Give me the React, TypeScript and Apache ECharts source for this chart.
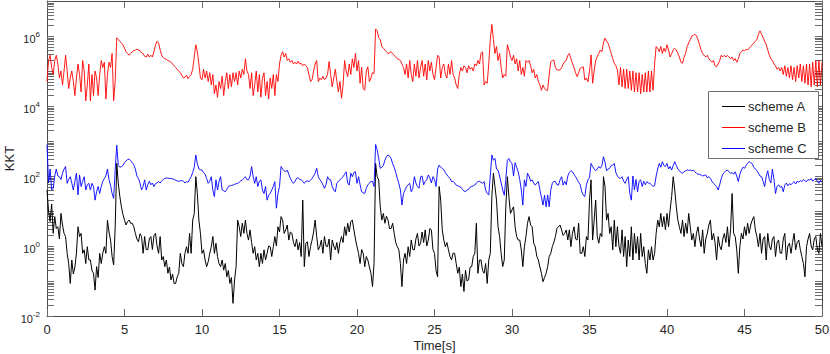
import React, { useEffect, useRef } from 'react';
import * as echarts from 'echarts';

// ---- data (log10 of KKT, sampled every 0.1 s from t = 0 to 50 s) ----
const TIME_STEP = 0.1;
const seriesNames = ['scheme A', 'scheme B', 'scheme C'];
const seriesColors = ['#000000', '#ff0000', '#0000ff'];
const seriesWidths = [1.0, 0.9, 0.9];
const xTickInterval = 5;
const yMin = 1e-2;
const yMax = 1e7;
const minorMultipliers = [2, 3, 4, 5, 6, 7, 8, 9];
const decadeExponents = [-2, -1, 0, 1, 2, 3, 4, 5, 6];

const schemeALog10 = [
  1.6, 1.0, 0.7, 1.2, 0.36, 0.84, 0.5, 0.55, 0.2, 0.93,
  0.6, 0.36, 0.27, -0.21, -0.5, -1.07, -0.4, -0.8, -0.6, -0.2,
  0.55, 0.27, 0.36, -0.21, -0.11, -0.5, -0.02, -0.4, -0.4, -0.7,
  -0.78, -1.26, -0.59, -0.9, -0.21, -0.5, -0.2, -0.02, -0.21, 0.74,
  0.4, 0.17, -0.3, -0.54, 0.55, 2.36, 1.79, 1.41, 1.12, 0.9,
  0.74, 0.6, 0.7, 0.74, 0.65, 0.65, 0.55, 0.36, 0.2, 0.12,
  0.35, 0.27, -0.21, 0.27, -0.1, -0.11, 0.2, 0.27, -0.1, 0.3,
  0.36, 0.0, -0.21, 0.27, -0.4, -0.3, -0.59, -0.4, -0.78, -0.6,
  -0.97, -0.8, -1.07, -1.07, -0.88, -0.78, -0.21, -0.5, -0.59, -0.21,
  -0.02, -0.21, 0.36, -0.21, 0.74, 0.93, 1.98, 1.5, 0.74, 0.36,
  -0.21, -0.11, -0.4, -0.59, -0.45, -0.21, -0.02, 0.27, -0.21, 0.08,
  -0.3, -0.5, -0.59, -0.4, -0.69, -0.5, -0.88, -0.7, -1.07, -0.9,
  -1.64, -0.97, -0.59, 0.74, 0.55, 0.27, 0.65, 0.36, 0.74, 0.36,
  0.17, 0.46, 0.1, -0.21, -0.02, -0.4, -0.21, -0.59, -0.21, -0.5,
  -0.11, -0.4, -0.21, 0.0, -0.02, -0.3, -0.02, 0.27, 0.0, 0.55,
  0.4, 0.84, 0.74, 0.36, 0.46, 0.6, 0.17, 0.4, 0.36, 0.1,
  -0.02, 0.2, -0.11, 0.1, -0.3, 1.31, -0.59, 0.08, 0.12, -0.3,
  -0.02, 0.17, 0.4, 0.74, 0.27, -0.11, -0.02, 0.17, -0.21, 0.27,
  0.0, -0.02, 0.2, -0.4, 0.17, 0.0, -0.11, 0.1, -0.21, 0.1,
  0.27, 0.1, 0.55, 0.3, 0.65, 0.4, 0.7, 0.74, 0.46, 0.2,
  -0.02, -0.21, -0.5, -0.1, -0.21, -0.59, -0.3, -0.4, -0.6, -0.78,
  -1.16, -0.5, 2.36, 1.98, 1.89, 1.12, 0.74, 0.93, 0.65, 0.85,
  0.74, 0.5, 0.5, 0.65, 0.36, 0.1, -0.02, -0.11, -0.5, -1.16,
  -0.4, -0.21, -0.5, -0.02, -0.3, 0.17, -0.1, -0.11, 0.2, 0.36,
  0.0, 0.08, 0.4, 0.1, 0.46, 0.0, 0.17, 0.5, 0.46, -0.1,
  -0.21, -0.7, -0.88, 1.7, 1.31, 0.46, 0.17, -0.02, 0.1, -0.11,
  -0.3, -0.4, -0.2, -0.21, -0.5, -0.78, -0.6, -1.16, -0.8, -1.3,
  -0.69, -1.0, -0.97, -0.6, -0.59, -0.3, -0.21, 0.65, -0.78, -0.4,
  -0.4, -0.7, -0.78, -0.5, -1.07, -0.4, -0.21, 1.41, 2.08, 1.7,
  1.31, 0.55, 0.27, -0.21, -0.59, -0.4, 1.12, 1.98, 1.41, 0.93,
  1.03, 1.12, 0.55, 0.27, 0.17, 0.17, -0.11, -0.59, -0.02, 0.27,
  0.65, 0.84, 0.6, 0.55, 0.08, -0.02, -0.3, -0.4, -0.6, -0.78,
  -1.02, -0.9, -0.78, -0.59, -0.3, -0.21, -0.02, 0.1, 0.27, 0.5,
  0.55, 0.6, 0.46, 0.3, 0.36, 0.46, 0.17, 0.46, -0.02, 0.36,
  0.55, 0.2, 0.17, 0.65, -0.21, -0.21, -0.02, -0.3, 0.27, 0.17,
  1.31, 1.89, 0.17, 0.74, 1.31, 0.27, 0.08, 0.36, 0.27, 1.98,
  1.7, 0.74, 0.93, 0.36, 0.55, -0.11, 0.74, -0.02, 0.55, 0.0,
  -0.21, 0.46, -0.3, 0.27, -0.59, 0.17, -0.3, 0.55, -0.4, 0.36,
  -0.21, 0.27, -0.4, 0.36, -0.3, -0.02, -0.5, -0.78, -0.11, -0.4,
  -0.02, -0.4, -0.21, 0.36, 0.74, 0.55, 0.93, 0.55, 0.84, 0.46,
  0.93, 0.55, 1.03, 1.41, 1.98, 1.6, 1.12, 0.74, 0.55, 0.36,
  0.74, 0.27, 0.65, 0.36, 0.93, 0.55, 0.17, 0.36, -0.02, 0.36,
  0.55, 0.2, -0.02, 0.46, -0.21, 0.2, 0.36, 0.6, 0.74, 0.17,
  0.36, 0.1, -0.4, 0.27, 0.0, -0.11, 0.2, 0.36, 0.1, 0.55,
  -0.02, 0.46, 1.5, 0.36, 0.27, -0.11, -0.78, -0.02, 0.36, 0.2,
  0.55, 0.3, 0.65, 0.36, 0.6, 0.74, 0.84, 0.46, 0.27, -0.02,
  0.36, -0.21, 0.2, 0.27, -0.4, 0.36, 0.0, -0.11, 0.2, 0.27,
  -0.3, 0.1, 0.17, -0.2, -0.21, 0.2, 0.36, -0.4, 0.0, 0.08,
  -0.21, 0.1, 0.36, -0.11, 0.1, 0.17, -0.1, -0.3, -0.5, -0.88,
  -0.02, 0.2, 0.36, 0.0, -0.11, 0.2, 0.27, -0.1, -0.21, 0.36,
  -0.02,
];

const schemeBLog10 = [
  4.7, 5.3, 5.45, 5.1, 4.9, 5.3, 5.45, 5.2, 4.8, 5.0,
  4.6, 5.0, 5.45, 5.0, 4.5, 4.8, 5.0, 4.7, 4.3, 4.8,
  5.2, 4.9, 4.4, 5.3, 5.0, 4.15, 4.6, 5.2, 4.15, 4.9,
  4.3, 5.0, 4.8, 4.3, 4.9, 5.3, 5.1, 5.25, 4.2, 4.9,
  5.25, 5.1, 5.5, 4.15, 4.7, 5.95, 5.9, 5.85, 5.8, 5.75,
  5.65, 5.55, 5.5, 5.45, 5.5, 5.55, 5.58, 5.6, 5.62, 5.6,
  5.58, 5.52, 5.5, 5.42, 5.4, 5.48, 5.4, 5.45, 5.4, 5.55,
  5.75, 5.85, 5.8, 5.6, 5.45, 5.38, 5.35, 5.33, 5.3, 5.28,
  5.25, 5.2, 5.15, 5.1, 5.05, 5.0, 4.95, 4.88, 4.8, 4.82,
  4.88, 4.78, 4.85, 4.9, 5.05, 5.4, 5.75, 5.55, 5.2, 4.8,
  4.75, 5.05, 4.8, 5.0, 4.7, 4.95, 4.6, 4.9, 4.35, 4.6,
  4.25, 4.7, 4.5, 4.85, 4.3, 4.7, 4.95, 4.5, 4.9, 4.55,
  4.95, 4.7, 4.95, 4.6, 5.0, 4.8, 5.05, 4.9, 5.35, 5.0,
  4.9, 4.5, 4.95, 4.3, 4.6, 5.0, 4.4, 4.9, 4.25, 4.8,
  4.95, 4.3, 4.7, 4.2, 4.8, 4.5, 4.9, 4.3, 4.9, 4.7,
  5.2, 5.45, 5.55, 5.4, 5.5, 5.3, 5.35, 5.25, 5.3, 5.2,
  5.25, 5.2, 5.28, 5.2, 5.22, 5.15, 5.2, 5.15, 5.1, 4.9,
  4.7, 4.75, 5.0, 5.2, 5.3, 4.7, 4.8, 4.75, 4.85, 4.75,
  4.8, 4.9, 5.27, 4.9, 4.55, 4.8, 5.05, 4.7, 4.4, 4.7,
  4.22, 4.6, 5.3, 5.0, 4.84, 5.2, 4.9, 5.35, 5.1, 5.5,
  5.0, 5.3, 4.65, 5.1, 4.5, 4.45, 5.0, 5.12, 4.7, 4.8,
  4.95, 4.93, 6.2, 6.15, 5.95, 5.9, 5.7, 5.65, 5.6, 5.55,
  5.5, 5.52, 5.55, 5.5, 5.45, 5.4, 5.35, 5.33, 5.3, 5.2,
  5.1, 4.9, 5.2, 4.8, 5.3, 4.9, 4.7, 5.2, 4.85, 5.3,
  4.8, 5.1, 5.3, 4.85, 5.2, 4.75, 5.3, 5.0, 5.25, 4.9,
  4.75, 5.1, 5.45, 5.4, 4.8, 5.1, 5.2, 4.9, 4.8, 5.2,
  4.9, 5.3, 4.9, 4.8, 4.6, 4.5, 4.9, 5.1, 5.0, 5.15,
  5.1, 4.95, 5.15, 5.05, 5.1, 5.0, 5.2, 5.15, 5.3, 5.2,
  5.5, 5.55, 4.6, 4.7, 4.65, 5.2, 5.9, 6.33, 5.9, 5.5,
  5.7, 5.3, 5.5, 5.1, 4.8, 4.9, 4.85, 5.75, 5.6, 5.4,
  5.3, 5.45, 5.2, 5.35, 5.0, 5.3, 4.9, 5.1, 4.85, 5.3,
  5.25, 5.3, 5.15, 4.95, 5.05, 4.8, 4.9, 4.7, 4.6, 4.45,
  4.6, 4.5, 4.45, 4.45, 4.9, 5.27, 5.3, 5.31, 5.1, 5.03,
  5.03, 5.03, 5.1, 5.2, 5.27, 5.3, 5.45, 5.5, 5.35, 5.22,
  5.1, 4.95, 4.84, 4.95, 5.08, 5.1, 5.12, 4.74, 4.8, 4.69,
  5.0, 5.46, 4.65, 5.0, 5.3, 5.41, 5.5, 5.6, 5.55, 5.8,
  5.94, 5.85, 5.79, 5.65, 5.5, 5.35, 5.22, 5.15, 5.03, 4.6,
  5.1, 4.55, 5.05, 4.5, 5.05, 4.5, 5.0, 4.45, 5.0, 4.4,
  4.95, 4.4, 4.95, 4.35, 4.9, 4.4, 4.95, 4.4, 5.0, 4.4,
  5.0, 4.45, 5.2, 5.7, 5.65, 5.55, 5.7, 5.5, 5.65, 5.55,
  5.75, 5.6, 5.4, 5.5, 5.6, 5.65, 5.6, 5.5, 5.4, 5.25,
  5.22, 5.4, 5.5, 5.7, 5.8, 5.9, 6.0, 6.02, 6.05, 6.0,
  5.9, 5.75, 5.6, 5.5, 5.45, 5.4, 5.45, 5.35, 5.3, 5.25,
  5.3, 5.15, 5.12, 5.2, 5.3, 5.45, 5.4, 5.45, 5.4, 5.45,
  5.4, 5.35, 5.4, 5.3, 5.35, 5.25, 5.35, 5.5, 5.55, 5.6,
  5.58, 5.62, 5.6, 5.65, 5.7, 5.75, 5.8, 5.85, 5.9, 6.05,
  6.15, 6.05, 5.95, 5.85, 5.75, 5.6, 5.45, 5.35, 5.3, 5.2,
  5.15, 5.05, 5.1, 5.0, 5.1, 4.9, 5.15, 4.85, 5.1, 4.8,
  5.15, 4.75, 5.1, 4.7, 5.15, 4.8, 5.2, 4.7, 5.15, 4.65,
  5.2, 4.6, 5.2, 4.55, 5.25, 4.6, 5.3, 4.55, 5.3, 4.6,
  5.25,
];

const schemeCLog10 = [
  2.9, 1.8, 2.2, 1.6, 1.65, 2.0, 2.2, 2.0, 1.98, 1.9,
  2.08, 2.2, 2.27, 1.79, 1.9, 1.98, 1.8, 1.6, 1.85, 2.08,
  1.46, 2.03, 1.7, 1.85, 1.98, 1.6, 1.75, 1.79, 1.6, 1.79,
  1.7, 1.31, 1.55, 1.7, 1.5, 1.7, 1.85, 1.93, 2.0, 2.2,
  1.9, 1.74, 1.5, 1.36, 2.17, 2.88, 2.3, 2.25, 2.27, 2.3,
  2.38, 2.43, 2.47, 2.48, 2.44, 2.38, 2.32, 2.2, 2.0, 1.93,
  1.8, 1.6, 1.7, 1.89, 1.6, 1.75, 1.85, 1.75, 1.8, 1.7,
  1.78, 1.8, 1.84, 1.8, 1.86, 1.9, 1.93, 1.94, 1.94, 1.93,
  1.93, 1.92, 1.9, 1.88, 1.86, 1.85, 1.86, 1.87, 1.85, 1.8,
  1.84, 1.82, 1.9, 1.98, 2.1, 2.25, 2.6, 2.35, 2.2, 2.18,
  2.17, 2.1, 2.05, 1.93, 1.79, 1.85, 1.98, 1.6, 1.41, 1.89,
  1.6, 1.85, 1.98, 1.6, 1.58, 1.55, 1.62, 1.7, 1.72, 1.73,
  1.74, 1.76, 1.78, 1.79, 1.82, 1.86, 1.89, 1.93, 1.98, 1.9,
  1.89, 2.0, 2.27, 1.98, 1.79, 1.98, 1.7, 1.85, 1.89, 1.6,
  1.5, 1.7, 1.31, 1.45, 1.5, 1.6, 1.7, 1.84, 1.08, 1.5,
  1.7, 2.27, 2.2, 2.15, 2.12, 2.17, 2.05, 1.93, 1.85, 1.79,
  1.85, 1.93, 1.95, 1.9, 1.89, 1.85, 1.79, 1.85, 1.86, 1.84,
  1.88, 1.93, 2.0, 2.08, 2.22, 1.98, 1.9, 1.84, 1.75, 1.65,
  1.75, 1.98, 1.9, 1.89, 1.7, 1.6, 1.55, 1.79, 1.85, 1.89,
  1.93, 1.98, 2.05, 2.12, 1.8, 1.74, 2.08, 1.98, 2.1, 2.12,
  1.79, 1.98, 1.75, 1.55, 1.52, 1.5, 1.65, 1.75, 1.79, 1.85,
  1.84, 1.7, 2.9, 2.75, 2.5, 2.22, 2.25, 2.3, 2.45, 2.55,
  2.6, 2.57, 2.5, 2.35, 2.25, 2.1, 1.93, 1.79, 1.6, 1.17,
  1.5, 1.6, 1.7, 1.75, 1.79, 1.55, 1.65, 1.98, 1.8, 1.7,
  1.65, 1.98, 2.0, 1.75, 1.84, 1.9, 2.03, 1.95, 1.8, 1.98,
  1.9, 1.7, 2.2, 2.31, 2.25, 2.22, 2.18, 2.1, 2.03, 1.98,
  1.93, 1.84, 1.85, 1.8, 1.74, 1.72, 1.7, 1.68, 1.62, 1.57,
  1.55, 1.6, 1.62, 1.68, 1.7, 1.72, 1.74, 1.8, 1.84, 1.85,
  1.82, 1.79, 1.84, 1.6, 1.5, 1.46, 2.0, 2.6, 2.45, 2.5,
  2.2, 2.17, 2.0, 1.8, 1.6, 1.45, 1.9, 2.45, 2.5, 2.4,
  2.36, 2.0, 2.38, 2.25, 2.12, 1.9, 1.6, 1.17, 1.89, 1.7,
  2.08, 2.0, 1.85, 1.89, 1.8, 1.74, 1.8, 1.84, 1.6, 1.4,
  1.17, 1.45, 1.12, 1.46, 1.12, 1.6, 1.79, 1.85, 1.84, 1.75,
  1.74, 1.89, 1.98, 1.74, 1.85, 1.75, 2.0, 2.1, 2.15, 2.12,
  2.05, 1.98, 1.9, 1.82, 1.75, 1.55, 1.45, 1.41, 1.75, 1.89,
  1.95, 2.36, 2.27, 2.2, 2.15, 2.2, 2.27, 2.22, 2.3, 2.55,
  2.4, 2.15, 2.2, 2.22, 2.3, 2.31, 2.36, 2.1, 2.0, 1.95,
  1.93, 1.98, 1.85, 1.79, 1.9, 1.98, 1.5, 1.31, 2.0, 1.6,
  1.9, 1.55, 1.85, 1.89, 1.7, 1.85, 1.75, 1.84, 1.8, 1.79,
  1.75, 1.7, 1.72, 2.0, 2.2, 2.36, 2.25, 2.41, 2.3, 2.27,
  2.36, 2.2, 2.27, 2.17, 2.3, 2.41, 2.3, 2.2, 2.15, 2.1,
  2.08, 2.12, 2.15, 2.17, 2.16, 2.17, 2.15, 2.17, 2.12, 2.08,
  2.05, 2.05, 2.03, 2.0, 2.02, 2.03, 1.95, 1.98, 1.93, 1.85,
  1.79, 1.75, 1.7, 1.6, 1.75, 1.93, 2.05, 2.1, 2.15, 2.17,
  2.12, 2.08, 2.1, 2.05, 2.12, 2.0, 1.84, 2.05, 2.17, 2.25,
  2.22, 2.3, 2.36, 2.41, 2.38, 2.35, 2.25, 2.2, 2.15, 2.08,
  2.0, 1.98, 1.85, 1.7, 1.98, 2.15, 1.9, 1.8, 2.2, 1.9,
  1.5, 1.7, 1.75, 1.68, 1.7, 1.55, 1.74, 1.8, 1.72, 1.78,
  1.75, 1.8, 1.84, 1.77, 1.85, 1.82, 1.87, 1.84, 1.9, 1.86,
  1.84, 1.9, 1.88, 1.93, 1.85, 1.9, 1.93, 1.85, 1.79, 1.88,
  1.82,
];

const seriesLog10 = [schemeALog10, schemeBLog10, schemeCLog10];

const FONT = '"Liberation Sans", Arial, Helvetica, sans-serif';
const TEXT_COLOR = '#262626';
const AXIS_COLOR = '#4a4a4a';
const TICK_COLOR = '#6a6a6a';
const TICK_LEN = 7;

// legend box layout (pixels)
const LEGEND_BOX = { x: 708.5, y: 91.5, w: 110, h: 67 };
const LEGEND_ROW0 = 106;
const LEGEND_ROW_GAP = 21;
const LEGEND_LINE_X = [722, 745];
const LEGEND_TEXT_X = 748;

function toPoints(arr: number[]): [number, number][] {
  return arr.map((e, i) => [Number((i * TIME_STEP).toFixed(1)), Math.pow(10, e)]);
}

export default function App() {
  const ref = useRef<HTMLDivElement>(null);

  useEffect(() => {
    document.body.style.margin = '0';
    if (!ref.current) return;
    const chart = echarts.init(ref.current, undefined, { renderer: 'svg' });

    const minorTickValues: [number, number][] = [];
    decadeExponents.forEach((n) => {
      minorMultipliers.forEach((k) => {
        minorTickValues.push([0, k * Math.pow(10, n)]);
      });
    });

    const lineSeries = seriesNames.map((name, i) => ({
      name,
      type: 'line',
      data: toPoints(seriesLog10[i]),
      symbol: 'none',
      showSymbol: false,
      lineStyle: { color: seriesColors[i], width: seriesWidths[i] },
      itemStyle: { color: seriesColors[i] },
      emphasis: { disabled: true },
      z: 3 + i,
    }));

    const legendElements: any[] = [
      {
        type: 'rect',
        shape: { x: LEGEND_BOX.x, y: LEGEND_BOX.y, width: LEGEND_BOX.w, height: LEGEND_BOX.h },
        style: { fill: '#ffffff', stroke: '#6e6e6e', lineWidth: 1 },
        z: 100,
      },
    ];
    seriesNames.forEach((name, i) => {
      const cy = LEGEND_ROW0 + i * LEGEND_ROW_GAP;
      legendElements.push({
        type: 'line',
        shape: { x1: LEGEND_LINE_X[0], y1: cy + 0.5, x2: LEGEND_LINE_X[1], y2: cy + 0.5 },
        style: { stroke: seriesColors[i], lineWidth: 1 },
        z: 101,
      });
      legendElements.push({
        type: 'text',
        x: LEGEND_TEXT_X,
        y: cy,
        style: {
          text: name,
          fill: TEXT_COLOR,
          fontSize: 13,
          fontFamily: FONT,
          verticalAlign: 'middle',
          align: 'left',
        },
        z: 101,
      });
    });

    const option: any = {
      animation: false,
      backgroundColor: '#ffffff',
      textStyle: { fontFamily: FONT },
      grid: {
        left: 47,
        right: 8,
        top: 1,
        bottom: 38,
        containLabel: false,
        outerBoundsMode: 'none',
      },
      graphic: { elements: legendElements },
      xAxis: [
        {
          type: 'value',
          min: 0,
          max: 50,
          interval: xTickInterval,
          position: 'bottom',
          name: 'Time[s]',
          nameLocation: 'middle',
          nameGap: 23,
          nameMoveOverlap: false,
          nameTextStyle: { fontSize: 13, color: TEXT_COLOR, fontFamily: FONT },
          axisLine: { show: true, onZero: false, lineStyle: { color: AXIS_COLOR, width: 1 } },
          axisTick: { show: true, inside: true, length: TICK_LEN, lineStyle: { color: TICK_COLOR } },
          axisLabel: { fontSize: 13, color: TEXT_COLOR, margin: 7, fontFamily: FONT },
          splitLine: { show: false },
        },
        {
          type: 'value',
          min: 0,
          max: 50,
          interval: xTickInterval,
          position: 'top',
          axisLine: { show: true, onZero: false, lineStyle: { color: AXIS_COLOR, width: 1 } },
          axisTick: { show: true, inside: true, length: TICK_LEN, lineStyle: { color: TICK_COLOR } },
          axisLabel: { show: false },
          splitLine: { show: false },
        },
      ],
      yAxis: [
        {
          type: 'log',
          logBase: 10,
          min: yMin,
          max: yMax,
          position: 'left',
          name: 'KKT',
          nameLocation: 'middle',
          nameRotate: 90,
          nameGap: 31,
          nameMoveOverlap: false,
          nameTextStyle: { fontSize: 13, color: TEXT_COLOR, fontFamily: FONT },
          axisLine: { show: true, onZero: false, lineStyle: { color: AXIS_COLOR, width: 1 } },
          axisTick: { show: true, inside: true, length: TICK_LEN, lineStyle: { color: TICK_COLOR } },
          axisLabel: {
            margin: 7,
            color: TEXT_COLOR,
            fontFamily: FONT,
            formatter: (value: number) => {
              const e = Math.round(Math.log10(value));
              if (e % 2 !== 0) return '';
              return `{b|10}{s|${e}}`;
            },
            rich: {
              b: { fontSize: 11, color: TEXT_COLOR, fontFamily: FONT, padding: [6, 0, 0, 0] },
              s: { fontSize: 8, color: TEXT_COLOR, fontFamily: FONT, verticalAlign: 'top', padding: [3, 0, 0, 0] },
            },
          },
          splitLine: { show: false },
        },
        {
          type: 'log',
          logBase: 10,
          min: yMin,
          max: yMax,
          position: 'right',
          axisLine: { show: true, onZero: false, lineStyle: { color: AXIS_COLOR, width: 1 } },
          axisTick: { show: true, inside: true, length: TICK_LEN, lineStyle: { color: TICK_COLOR } },
          axisLabel: { show: false },
          splitLine: { show: false },
        },
      ],
      series: [
        {
          name: 'minorTicks',
          type: 'custom',
          silent: true,
          z: 1,
          clip: false,
          data: minorTickValues,
          renderItem: (params: any, api: any) => {
            const cs = params.coordSys;
            const p = api.coord([0, api.value(1)]);
            const y = Math.round(p[1]) + 0.5;
            const style = { stroke: TICK_COLOR, lineWidth: 1, fill: null };
            return {
              type: 'group',
              children: [
                { type: 'line', shape: { x1: cs.x, y1: y, x2: cs.x + TICK_LEN, y2: y }, style },
                {
                  type: 'line',
                  shape: { x1: cs.x + cs.width - TICK_LEN, y1: y, x2: cs.x + cs.width, y2: y },
                  style,
                },
              ],
            };
          },
        },
        ...lineSeries,
      ],
    };

    chart.setOption(option);
    return () => {
      chart.dispose();
    };
  }, []);

  return <div ref={ref} style={{ width: 830, height: 354 }} />;
}
